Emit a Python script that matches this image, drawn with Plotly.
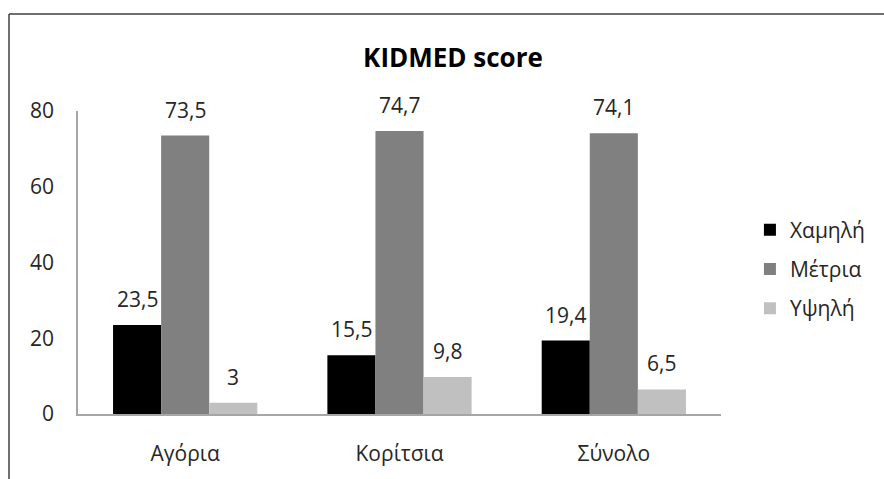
import plotly.graph_objects as go

categories = ["Αγόρια", "Κορίτσια", "Σύνολο"]
series_names = ["Χαμηλή", "Μέτρια", "Υψηλή"]
low = [23.5, 15.5, 19.4]
medium = [73.5, 74.7, 74.1]
high = [3, 9.8, 6.5]
colors = ["#000000", "#808080", "#c0c0c0"]
y_ticks = [0, 20, 40, 60, 80]

FONT = "Open Sans"
FS = 21
W, H = 884, 479
ML, MR, MT, MB = 78, 163, 111, 65
BARGAP = 0.327


def fmt(v):
    return f"{v:g}".replace(".", ",")


pw = W - ML - MR
ph = H - MT - MB
bar_px = pw / len(categories) * (1 - BARGAP) / len(series_names)

fig = go.Figure()
annotations = []
for i, (name, vals, col) in enumerate(zip(series_names, [low, medium, high], colors)):
    fig.add_trace(go.Bar(
        name=name, x=categories, y=vals, marker=dict(color=col, line=dict(width=0)),
        legendgroup=name,
    ))
    shift = (i - (len(series_names) - 1) / 2) * bar_px
    for c, v in zip(categories, vals):
        annotations.append(dict(
            x=c, y=v, xref="x", yref="y", text=fmt(v), showarrow=False,
            xanchor="center", yanchor="bottom", xshift=shift, yshift=10,
            font=dict(family=FONT, size=FS, color="#262626"),
        ))

bx = (9 - ML) / pw
by = (H - MB - 14) / ph

fig.update_layout(
    width=W, height=H,
    margin=dict(l=ML, r=MR, t=MT, b=MB, pad=0),
    paper_bgcolor="white", plot_bgcolor="white",
    barmode="group", bargap=BARGAP, bargroupgap=0,
    separators=",.",
    title=dict(text="<b>KIDMED score</b>", x=453 / W, xanchor="center", xref="container",
               y=1 - 58 / H, yanchor="middle", yref="container",
               font=dict(family=FONT, size=26, color="#000000")),
    font=dict(family=FONT, size=FS, color="#262626"),
    legend=dict(x=1.045, xanchor="left", y=0.675, yanchor="top", tracegroupgap=9,
                font=dict(family=FONT, size=FS, color="#262626"),
                itemclick=False),
    showlegend=True,
    annotations=annotations,
    xaxis=dict(showline=True, linecolor="#a6a6a6", linewidth=1.5, ticks="outside",
               ticklen=20, tickcolor="rgba(0,0,0,0)", showgrid=False, zeroline=False,
               tickfont=dict(family=FONT, size=FS, color="#262626")),
    yaxis=dict(range=[0, 80], tickvals=y_ticks, showline=True, linecolor="#a6a6a6", linewidth=1.5,
               ticks="outside", ticklen=18, tickcolor="rgba(0,0,0,0)", showgrid=False,
               zeroline=False, tickfont=dict(family=FONT, size=FS, color="#262626")),
    shapes=[
        dict(type="line", xref="paper", yref="paper", x0=bx, x1=1.5, y0=by, y1=by,
             line=dict(color="#404040", width=1.5)),
        dict(type="line", xref="paper", yref="paper", x0=bx, x1=bx, y0=by, y1=-0.5,
             line=dict(color="#404040", width=1.5)),
    ],
)

fig.write_html("out.html")
